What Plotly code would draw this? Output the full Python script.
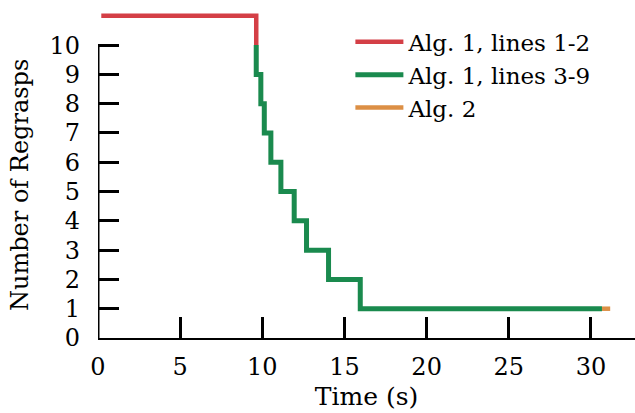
import plotly.graph_objects as go

# Data
red_t = [0.2, 9.63]
red_n = [11, 10]

green_t = [9.63, 9.63, 9.91, 10.12, 10.52, 11.13, 11.94, 12.69, 14.03, 15.96, 30.67]
green_n = [10, 9, 8, 7, 6, 5, 4, 3, 2, 1, 1]

orange_t = [30.67, 31.17]
orange_n = [1, 1]

x_ticks = [0, 5, 10, 15, 20, 25, 30]
y_ticks = [0, 1, 2, 3, 4, 5, 6, 7, 8, 9, 10]

RED = "#d43f46"
GREEN = "#1a8a4e"
ORANGE = "#dc8f45"
FONT = "DejaVu Serif"
FS = 24

fig = go.Figure()
fig.add_trace(go.Scatter(x=red_t, y=red_n, mode="lines", line=dict(color=RED, width=4.5, shape="hv"),
                         name="Alg. 1, lines 1-2"))
fig.add_trace(go.Scatter(x=green_t, y=green_n, mode="lines", line=dict(color=GREEN, width=5, shape="hv"),
                         name="Alg. 1, lines 3-9"))
fig.add_trace(go.Scatter(x=orange_t, y=orange_n, mode="lines", line=dict(color=ORANGE, width=4.5, shape="hv"),
                         name="Alg. 2"))

# y-axis spine limited to 0..10
fig.add_shape(type="line", xref="x", yref="y", x0=0, x1=0, y0=min(y_ticks), y1=max(y_ticks),
              line=dict(color="black", width=3), layer="above")

fig.update_layout(
    width=635, height=413,
    margin=dict(l=98, r=0, t=0, b=75),
    paper_bgcolor="white", plot_bgcolor="white",
    font=dict(family=FONT, size=FS, color="black"),
    showlegend=True,
    legend=dict(x=0.47, y=0.94, xanchor="left", yanchor="top", bgcolor="rgba(0,0,0,0)",
                font=dict(family=FONT, size=23, color="black"), tracegroupgap=0, itemwidth=48),
    xaxis=dict(range=[0, 32.68], tickvals=x_ticks, ticks="inside", ticklen=21, tickwidth=2.5,
               tickcolor="black", showline=True, linecolor="black", linewidth=2,
               showgrid=False, zeroline=False, ticklabelstandoff=6,
               tickfont=dict(family=FONT, size=FS),
               title=dict(text="Time (s)", standoff=8, font=dict(family=FONT, size=25))),
    yaxis=dict(range=[0, 11.54], tickvals=y_ticks, ticks="inside", ticklen=21, tickwidth=2.5,
               tickcolor="black", showline=False, showgrid=False, zeroline=False,
               ticklabelstandoff=17, tickfont=dict(family=FONT, size=FS)),
    annotations=[dict(text="Number of Regrasps", xref="paper", yref="paper",
                      x=-(98 - 20) / 537, y=(338 - 185) / 338, textangle=-90,
                      showarrow=False, xanchor="center", yanchor="middle",
                      font=dict(family=FONT, size=FS, color="black"))],
)

fig.write_html("out.html", config={"displayModeBar": False},
               post_script="document.body.style.margin='0';")
